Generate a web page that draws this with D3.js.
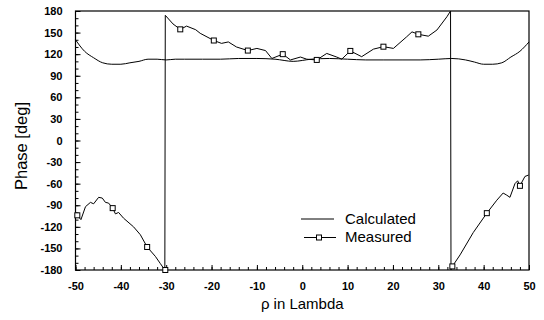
<!DOCTYPE html>
<html>
<head>
<meta charset="utf-8">
<script src="https://cdn.jsdelivr.net/npm/d3@7"></script>
<style>
  body { margin: 0; background: #fff; }
  svg { display: block; font-family: "Liberation Sans", Arial, sans-serif; }
</style>
</head>
<body>
<div id="container"></div>
<script>
/* CONSTANTS AND GLOBALS */
const width = 544, height = 320;
const margin = {top: 11, right: 15, bottom: 50, left: 75.5};

/* DATA */
const calcX = [-50, -48, -46, -44, -42, -40, -38, -36, -34, -32, -30, -28, -26, -22, -18, -14, -10, -6, -2, 2, 6, 10, 14, 18, 22, 26, 30, 33, 36, 38, 40, 42, 44, 46, 48, 50];
const calcY = [140, 124, 115, 108, 106, 106, 108, 110, 113, 113, 112, 113, 113, 113, 113, 114, 114, 113, 110, 113, 114, 113, 112, 112, 112, 112, 113, 114, 112, 109, 106, 106, 108, 116, 124, 137];

const measX = [-49.9, -49.6, -48.8, -47.8, -46.7, -46, -44.9, -44.1, -43.4, -42.7, -41.8, -41.2, -40.5, -39.4, -37.2, -35.7, -34.2, -32.4, -31.3, -30.3,
  -30.2, -28.5, -26.9, -25.5, -23.5, -22.5, -19.5, -17.8, -16.3, -14.5, -12, -10, -8.1, -6.7, -4.3, -2.6, -0.4, 1, 3.2, 5.4, 7.6, 8.7,
  10.6, 13.1, 15.7, 17.9, 20.1, 23, 24.2, 25.6, 27.8, 29.7, 31.9, 32.7,
  32.8, 33.1, 34.8, 37.7, 40.7, 42.9, 44.3, 45.1, 45.8, 46.9, 47.5, 48, 49.1, 49.9];
const measY = [-100, -104, -110, -92, -86, -88, -79, -80, -86, -87, -94, -102, -100, -108, -120, -131, -148, -161, -171, -180,
  174, 162, 154.5, 159, 154, 149, 139, 135, 137, 130, 125, 128, 125, 114, 120, 112, 116, 113, 112, 121, 116, 113,
  124.5, 116.5, 127, 130.4, 128, 144, 151, 147.6, 145, 153.6, 172, 180,
  -180, -175, -159, -128, -101, -83, -73, -76, -79, -60, -56, -63, -50, -48];

const markX = [-49.6, -41.8, -34.2, -30.2, -26.9, -19.5, -12, -4.3, 3.2, 10.6, 17.9, 25.6, 33.1, 40.7, 48];
const markY = [-104, -94, -148, -180, 154.5, 139, 125, 120, 112, 124.5, 130.4, 147.6, -175, -101, -63];

const xTicks = [-50, -40, -30, -20, -10, 0, 10, 20, 30, 40, 50];
const yTicks = [-180, -150, -120, -90, -60, -30, 0, 30, 60, 90, 120, 150, 180];
const seriesNames = ["Calculated", "Measured"];

const calc = calcX.map((x, i) => ({x, y: calcY[i]}));
const meas = measX.map((x, i) => ({x, y: measY[i]}));
const marks = markX.map((x, i) => ({x, y: markY[i]}));

const svg = d3.select("#container")
  .append("svg")
  .attr("width", width)
  .attr("height", height);

/* SCALES */
const xScale = d3.scaleLinear()
  .domain([-50, 50])
  .range([margin.left, width - margin.right]);

const yScale = d3.scaleLinear()
  .domain([-180, 180])
  .range([height - margin.bottom, margin.top]);

// minor ticks (inside)
svg.append("g")
  .attr("transform", `translate(0,${height - margin.bottom})`)
  .call(d3.axisBottom(xScale).tickValues(d3.range(-50, 51, 2)).tickSize(-3).tickFormat(""))
  .call(g => g.select(".domain").remove());
svg.append("g")
  .attr("transform", `translate(${margin.left},0)`)
  .call(d3.axisLeft(yScale).tickValues(d3.range(-180, 181, 10)).tickSize(-3).tickFormat(""))
  .call(g => g.select(".domain").remove());

// major ticks, plain hyphen for minus like the original
svg.append("g")
  .attr("transform", `translate(0,${height - margin.bottom})`)
  .call(d3.axisBottom(xScale).tickValues(xTicks).tickSize(-5).tickPadding(12).tickFormat(d => String(d)))
  .call(g => g.select(".domain").remove())
  .call(g => g.selectAll("text")
    .style("font-size", "11px").style("font-weight", "bold").attr("fill", "#000"));

svg.append("g")
  .attr("transform", `translate(${margin.left},0)`)
  .call(d3.axisLeft(yScale).tickValues(yTicks).tickSize(-5).tickPadding(13).tickFormat(d => String(d)))
  .call(g => g.select(".domain").remove())
  .call(g => g.selectAll("text")
    .style("font-size", "11px").style("font-weight", "bold").attr("fill", "#000"));

svg.selectAll(".tick line").attr("stroke", "#000");

// frame
svg.append("rect")
  .attr("x", xScale(-50))
  .attr("y", yScale(180))
  .attr("width", xScale(50) - xScale(-50))
  .attr("height", yScale(-180) - yScale(180))
  .attr("fill", "none")
  .attr("stroke", "#000")
  .attr("stroke-width", 1.2);

/* LINES */
const line = d3.line()
  .x(d => xScale(d.x))
  .y(d => yScale(d.y));

svg.append("path")
  .datum(calc)
  .attr("d", line.curve(d3.curveMonotoneX))
  .attr("fill", "none")
  .attr("stroke", "#000")
  .attr("stroke-width", 1);

svg.append("path")
  .datum(meas)
  .attr("d", d3.line().x(d => xScale(d.x)).y(d => yScale(d.y)))
  .attr("fill", "none")
  .attr("stroke", "#000")
  .attr("stroke-width", 1);

svg.append("g")
  .selectAll("rect")
  .data(marks)
  .join("rect")
  .attr("x", d => xScale(d.x) - 2.5)
  .attr("y", d => yScale(d.y) - 2.5)
  .attr("width", 5)
  .attr("height", 5)
  .attr("fill", "#fff")
  .attr("stroke", "#000")
  .attr("stroke-width", 1);

/* LEGEND */
const legend = svg.append("g");
legend.append("line")
  .attr("x1", 301).attr("x2", 334).attr("y1", 219).attr("y2", 219)
  .attr("stroke", "#000");
legend.append("line")
  .attr("x1", 304).attr("x2", 336).attr("y1", 237.5).attr("y2", 237.5)
  .attr("stroke", "#000");
legend.append("rect")
  .attr("x", 316.5).attr("y", 235).attr("width", 5).attr("height", 5)
  .attr("fill", "#fff").attr("stroke", "#000");
legend.selectAll("text")
  .data(seriesNames)
  .join("text")
  .attr("x", 345)
  .attr("y", (d, i) => 223.5 + i * 18.5)
  .style("font-size", "15px")
  .text(d => d);

/* AXIS TITLES */
svg.append("text")
  .attr("x", xScale(0))
  .attr("y", 309)
  .attr("text-anchor", "middle")
  .style("font-size", "15px")
  .text("ρ in Lambda");

svg.append("text")
  .attr("transform", `translate(27,146) rotate(-90)`)
  .attr("text-anchor", "middle")
  .style("font-size", "16.5px")
  .text("Phase [deg]");
</script>
</body>
</html>
